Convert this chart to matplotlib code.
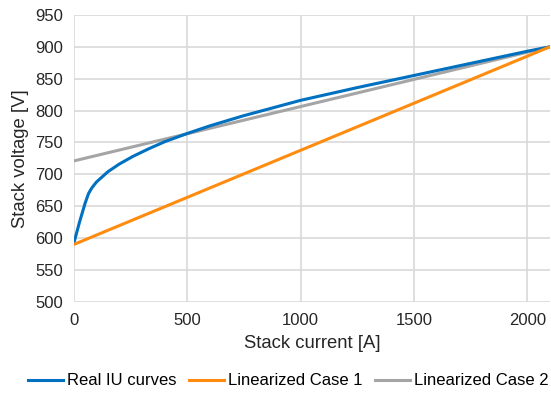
import matplotlib.pyplot as plt

plt.rcParams['font.family'] = ['Liberation Sans', 'DejaVu Sans']

# Real IU curve
real_i = [0, 25, 50, 65, 80, 100, 150, 200, 260, 330, 400, 500, 600, 750,
          1000, 1250, 1500, 1750, 2000, 2100]
real_v = [592, 625, 655, 670, 679, 688, 704, 716, 728, 740, 751, 764, 776, 792,
          816, 836, 855, 874, 893, 900]

# Linearized cases: straight lines between end points
case1_i = [0, 2100]
case1_v = [590, 900]
case2_i = [0, 2100]
case2_v = [721, 900]

xticks = [0, 500, 1000, 1500, 2000]
yticks = list(range(500, 951, 50))

fig = plt.figure(figsize=(5.51, 4.03), dpi=100)
ax = fig.add_axes([0.134, 0.251, 0.864, 0.712])

ax.plot(real_i, real_v, color='#0070C0', lw=2.2, label='Real IU curves', zorder=3)
ax.plot(case1_i, case1_v, color='#FF8C0F', lw=2.2, label='Linearized Case 1', zorder=3)
ax.plot(case2_i, case2_v, color='#A5A5A5', lw=2.2, label='Linearized Case 2', zorder=2)

ax.set_xlim(0, 2100)
ax.set_ylim(500, 950)
ax.set_xticks(xticks)
ax.set_yticks(yticks)
ax.grid(True, color='#D9D9D9', lw=1.2)
ax.set_axisbelow(True)
for s in ax.spines.values():
    s.set_visible(False)
ax.tick_params(length=0, labelsize=12, colors='#262626', pad=8)

ax.set_xlabel('Stack current [A]', fontsize=13.3, color='#262626', labelpad=5)
ax.set_ylabel('Stack voltage [V]', fontsize=13.3, color='#262626', labelpad=4)

fig.legend(loc='center', bbox_to_anchor=(0.523, 0.055), ncol=3, frameon=False,
           fontsize=12, handlelength=2.1, handletextpad=0.25, columnspacing=0.75)

plt.savefig('out.png', dpi=100)
